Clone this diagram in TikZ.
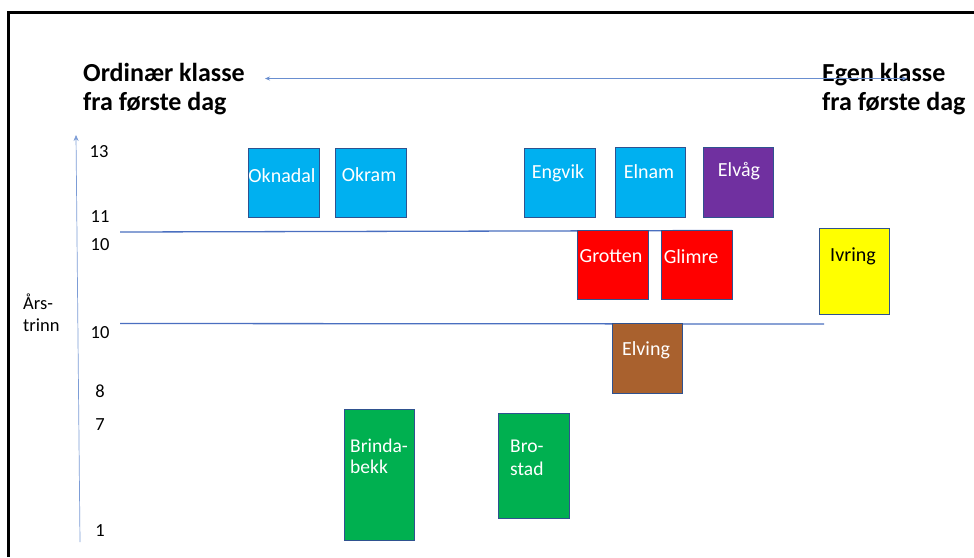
\documentclass[tikz,border=0pt]{standalone}
\usepackage{fontspec}
\setmainfont{Carlito}
\usetikzlibrary{arrows.meta}
\definecolor{axisblue}{HTML}{4472C4}
\definecolor{lineblue}{HTML}{4A6FC0}
\definecolor{boxedge}{HTML}{2F528F}
\definecolor{cyanbox}{HTML}{00B0F0}
\definecolor{purplebox}{HTML}{7030A0}
\definecolor{redbox}{HTML}{FF0000}
\definecolor{yellowbox}{HTML}{FFFF00}
\definecolor{brownbox}{HTML}{A9612E}
\definecolor{greenbox}{HTML}{00B050}
\tikzset{
  school/.style={draw=boxedge, line width=1.4pt, inner sep=0pt},
  num/.style={font=\fontsize{18.5}{22}\selectfont, inner sep=0pt},
  title/.style={font=\bfseries\fontsize{26}{29}\selectfont, align=left, inner sep=0pt},
  label/.style={font=\fontsize{20}{22}\selectfont, text=white, inner sep=0pt, align=left}
}
\begin{document}
\begin{tikzpicture}[x=1pt,y=-1pt]
\useasboundingbox (0,0) rectangle (974,557);
\fill[white] (0,0) rectangle (974,557);
% frame (top and left)
\draw[line width=2.6pt] (8.5,557) -- (8.5,12.5) -- (974,12.5);
% titles
\node[title, anchor=north west] (ord) at (83,63) {Ordinær klasse\\fra første dag};
\node[title, anchor=north west] (egen) at (822,63) {Egen klasse\\fra første dag};
\coordinate (arrL) at (265,78.5);
\coordinate (arrR) at (907,78.5);
\draw[axisblue!80, line width=0.6pt, {Stealth[length=5pt,width=4pt]}-{Stealth[length=5pt,width=4pt]}] (arrL) -- (arrR);
% axis
\coordinate (axb) at (80,542);
\coordinate (axt) at (76,135);
\draw[axisblue!70, line width=0.7pt, -{Stealth[length=6pt,width=5pt]}] (axb) -- (axt);
% axis labels
\node[num] (n13) at (99,152) {13};
\node[num] (n11) at (100,217) {11};
\node[num] (n10a) at (100,245) {10};
\node[num] (n10b) at (100,333) {10};
\node[num] (n8) at (100,391) {8};
\node[num] (n7) at (100,425) {7};
\node[num] (n1) at (100,531) {1};
\node[num, align=left, anchor=west] (ars) at (23,313) {Års-\\trinn};
% horizontal lines
\coordinate (l1a) at (120,232);
\coordinate (l1b) at (732,230.5);
\coordinate (l2a) at (120,323.5);
\coordinate (l2b) at (824,324);
\draw[lineblue, line width=1.3pt] (l1a) -- (l1b);
\draw[lineblue, line width=1.3pt] (l2a) -- (l2b);
% boxes
\node[school, fill=cyanbox, minimum width=71pt, minimum height=69pt, anchor=north west] (okn) at (247.5,147.5) {};
\node[label] (tokn) at (282,176) {Oknadal};
\node[school, fill=cyanbox, minimum width=71pt, minimum height=69pt, anchor=north west] (okr) at (334.5,147.5) {};
\node[label] (tokr) at (369,175) {Okram};
\node[school, fill=cyanbox, minimum width=71pt, minimum height=69pt, anchor=north west] (eng) at (523.5,147.5) {};
\node[label] (teng) at (558,173) {Engvik};
\node[school, fill=cyanbox, minimum width=70pt, minimum height=70pt, anchor=north west] (eln) at (614.5,146.5) {};
\node[label] (teln) at (649,172) {Elnam};
\node[school, fill=purplebox, minimum width=70pt, minimum height=70pt, anchor=north west] (elv) at (702.5,146.5) {};
\node[label] (telv) at (739,171) {Elvåg};
\node[school, fill=redbox, minimum width=71pt, minimum height=69pt, anchor=north west] (gro) at (576.5,229.5) {};
\node[label] (tgro) at (611,256) {Grotten};
\node[school, fill=redbox, minimum width=71pt, minimum height=69pt, anchor=north west] (gli) at (660.5,229.5) {};
\node[label] (tgli) at (691,257) {Glimre};
\node[school, fill=yellowbox, minimum width=70pt, minimum height=86pt, anchor=north west] (ivr) at (818.5,227.5) {};
\node[label, text=black] (tivr) at (853,256) {Ivring};
\node[school, fill=brownbox, minimum width=70pt, minimum height=70pt, anchor=north west] (elvi) at (611.5,322.5) {};
\node[label] (telvi) at (646,350) {Elving};
\node[school, fill=greenbox, minimum width=70pt, minimum height=131pt, anchor=north west] (bri) at (343.5,408.5) {};
\node[label, anchor=north west, font=\fontsize{19.5}{20.5}\selectfont] (tbri) at (350,439) {Brinda-\\bekk};
\node[school, fill=greenbox, minimum width=71pt, minimum height=105pt, anchor=north west] (bro) at (497.5,412.5) {};
\node[label, anchor=north west, font=\fontsize{19.5}{22.5}\selectfont] (tbro) at (510,440) {Bro-\\stad};
\end{tikzpicture}
\end{document}
